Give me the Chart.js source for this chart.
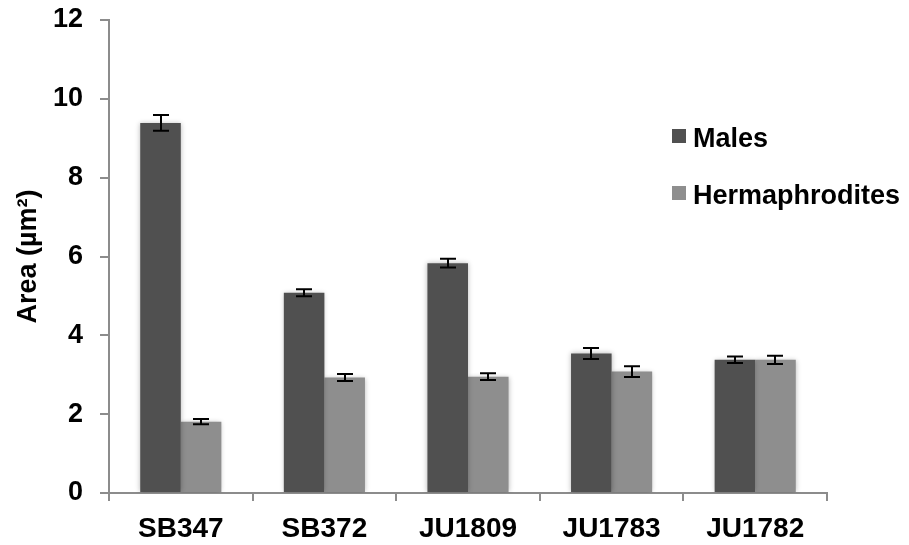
<!DOCTYPE html>
<html>
<head>
<meta charset="utf-8">
<script src="https://cdn.jsdelivr.net/npm/chart.js@4.4.1/dist/chart.umd.min.js"></script>
<style>
  html, body { margin: 0; padding: 0; background: #ffffff; }
  #wrap { width: 909px; height: 545px; position: relative; }
</style>
</head>
<body>
<div id="wrap"><canvas id="chart" width="909" height="545"></canvas></div>
<script>
// Strains and measured mean area with standard errors
const categories = ['SB347', 'SB372', 'JU1809', 'JU1783', 'JU1782'];
const males = [9.39, 5.08, 5.83, 3.54, 3.38];
const hermaphrodites = [1.81, 2.93, 2.95, 3.08, 3.38];
const malesErr = [0.20, 0.09, 0.11, 0.14, 0.08];
const hermaphroditesErr = [0.065, 0.09, 0.085, 0.135, 0.105];
const yTicks = [0, 2, 4, 6, 8, 10, 12];

const FONT = '"Liberation Sans", Arial, sans-serif';
const AXIS_GREY = '#8c8c8c';

// Draws symmetric error bars on top of each bar
const errorBars = {
  id: 'errorBars',
  afterDatasetsDraw(chart) {
    const { ctx } = chart;
    const yScale = chart.scales.y;
    ctx.save();
    ctx.strokeStyle = '#000000';
    ctx.lineWidth = 2;
    chart.data.datasets.forEach((ds, di) => {
      const meta = chart.getDatasetMeta(di);
      meta.data.forEach((bar, i) => {
        const v = ds.data[i];
        const e = ds.errors[i];
        const x = Math.round(bar.x);
        const yTop = yScale.getPixelForValue(v + e);
        const yBot = yScale.getPixelForValue(v - e);
        const half = 8;
        ctx.beginPath();
        ctx.moveTo(x, yTop); ctx.lineTo(x, yBot);
        ctx.moveTo(x - half, yTop); ctx.lineTo(x + half, yTop);
        ctx.moveTo(x - half, yBot); ctx.lineTo(x + half, yBot);
        ctx.stroke();
      });
    });
    ctx.restore();
  }
};

// Soft shadow behind the bars
const barShadow = {
  id: 'barShadow',
  beforeDatasetsDraw(chart) {
    const { ctx } = chart;
    ctx.save();
    ctx.shadowColor = 'rgba(0,0,0,0.28)';
    ctx.shadowBlur = 5;
    ctx.shadowOffsetX = 0;
    ctx.shadowOffsetY = 0;
  },
  afterDatasetsDraw(chart) {
    chart.ctx.restore();
  }
};

// Legend drawn inside the plot area, to the right
const innerLegend = {
  id: 'innerLegend',
  afterDraw(chart) {
    const { ctx } = chart;
    const items = chart.data.datasets;
    const x0 = 672;
    const rows = [139, 196];
    ctx.save();
    ctx.font = 'bold 27px ' + FONT;
    ctx.textBaseline = 'middle';
    ctx.textAlign = 'left';
    items.forEach((ds, i) => {
      const y = rows[i];
      ctx.fillStyle = ds.backgroundColor;
      ctx.fillRect(x0, y - 10, 14, 14);
      ctx.fillStyle = '#000000';
      ctx.fillText(ds.label, x0 + 21, y + 1);
    });
    ctx.restore();
  }
};

new Chart(document.getElementById('chart'), {
  type: 'bar',
  data: {
    labels: categories,
    datasets: [
      { label: 'Males', data: males, errors: malesErr, backgroundColor: '#505050', borderWidth: 0 },
      { label: 'Hermaphrodites', data: hermaphrodites, errors: hermaphroditesErr, backgroundColor: '#8e8e8e', borderWidth: 0 }
    ]
  },
  options: {
    responsive: false,
    animation: false,
    devicePixelRatio: 1,
    layout: { padding: { left: 0, right: 82, top: 20, bottom: 0 } },
    datasets: { bar: { categoryPercentage: 0.565, barPercentage: 1.0 } },
    plugins: {
      legend: { display: false },
      tooltip: { enabled: false }
    },
    scales: {
      x: {
        grid: { display: true, drawOnChartArea: false, drawTicks: true, tickLength: 8, color: AXIS_GREY, lineWidth: 2, offset: true },
        border: { display: true, color: AXIS_GREY, width: 2 },
        ticks: { color: '#000000', font: { family: FONT, size: 28, weight: 'bold' }, padding: 11, maxRotation: 0 },
        afterFit(scale) { scale.height = 52; scale.paddingLeft = 0; scale.paddingRight = 0; }
      },
      y: {
        min: 0, max: 12,
        afterBuildTicks(scale) { scale.ticks = yTicks.map(v => ({ value: v })); },
        grid: { display: true, drawOnChartArea: false, drawTicks: true, tickLength: 9, color: AXIS_GREY, lineWidth: 2 },
        border: { display: true, color: AXIS_GREY, width: 2 },
        ticks: { color: '#000000', font: { family: FONT, size: 27, weight: 'bold' }, padding: 17 },
        title: { display: true, text: 'Area (µm²)', color: '#000000', font: { family: FONT, size: 27, weight: 'bold' }, padding: { top: 12, bottom: 0 } },
        afterFit(scale) { scale.width = 109; scale.paddingTop = 0; scale.paddingBottom = 0; }
      }
    }
  },
  plugins: [barShadow, errorBars, innerLegend]
});
</script>
</body>
</html>
